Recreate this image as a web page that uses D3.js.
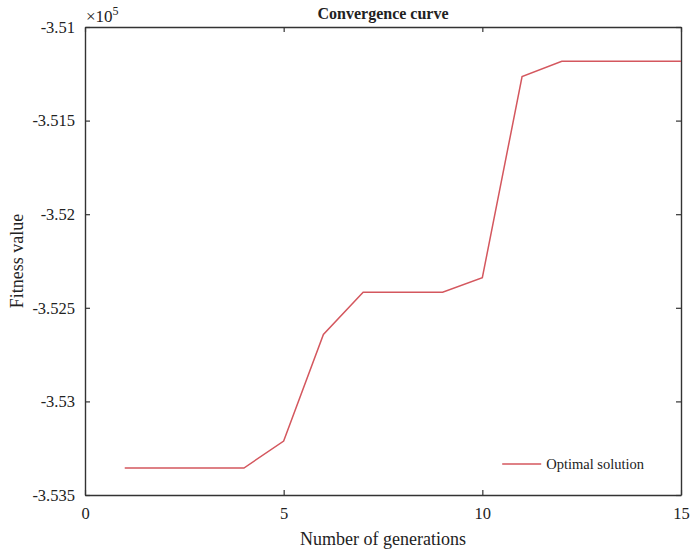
<!DOCTYPE html>
<html>
<head>
<meta charset="utf-8">
<script src="https://cdn.jsdelivr.net/npm/d3@7"></script>
<style>
  body { margin: 0; background: #fff; }
  text { font-family: "Liberation Serif", "Times New Roman", serif; fill: #222; }
</style>
</head>
<body>
<div id="root"></div>
<script>
// best fitness per generation
const generations = [1, 2, 3, 4, 5, 6, 7, 8, 9, 10, 11, 12, 13, 14, 15];
const fitness = [
  -353356, -353356, -353356, -353356, -353212, -352642, -352417, -352417,
  -352417, -352339, -351265, -351183, -351183, -351183, -351183,
];
const xTicks = [0, 5, 10, 15];
const yTicks = [-353500, -353000, -352500, -352000, -351500, -351000];
const seriesName = 'Optimal solution';

const width = 690;
const height = 555;
const margin = { top: 27, right: 9, bottom: 60, left: 85 };
const lineColor = '#d4575e';
const axisColor = '#333';

const svg = d3.select('#root').append('svg')
  .attr('width', width)
  .attr('height', height);

const xScale = d3.scaleLinear()
  .domain([0, 15])
  .range([margin.left, width - margin.right]);

const yScale = d3.scaleLinear()
  .domain([-353500, -351000])
  .range([height - margin.bottom, margin.top]);

// plain hyphen like matlab, not the unicode minus d3 uses
const fmtY = d => String(+(d / 1e5).toFixed(3));

// axes with inward ticks, matlab style box
const tickLen = 5;
const styleAxis = g => {
  g.select('.domain').attr('stroke', axisColor).attr('stroke-width', 1.4);
  g.selectAll('.tick line').attr('stroke', axisColor).attr('stroke-width', 1.2);
  g.selectAll('.tick text')
    .attr('font-size', 16.5)
    .attr('font-family', '"Liberation Serif", serif')
    .attr('fill', '#222');
};

svg.append('g')
  .attr('transform', `translate(0,${yScale.range()[0]})`)
  .call(d3.axisBottom(xScale).tickValues(xTicks).tickSizeInner(-tickLen).tickSizeOuter(0).tickPadding(12))
  .call(styleAxis);

svg.append('g')
  .attr('transform', `translate(0,${yScale.range()[1]})`)
  .call(d3.axisTop(xScale).tickValues(xTicks).tickSizeInner(-tickLen).tickSizeOuter(0).tickFormat(''))
  .call(styleAxis);

svg.append('g')
  .attr('transform', `translate(${xScale.range()[0]},0)`)
  .call(d3.axisLeft(yScale).tickValues(yTicks).tickSizeInner(-tickLen).tickSizeOuter(0).tickPadding(10).tickFormat(fmtY))
  .call(styleAxis);

svg.append('g')
  .attr('transform', `translate(${xScale.range()[1]},0)`)
  .call(d3.axisRight(yScale).tickValues(yTicks).tickSizeInner(-tickLen).tickSizeOuter(0).tickFormat(''))
  .call(styleAxis);

// the curve
const line = d3.line()
  .x((d, i) => xScale(generations[i]))
  .y(d => yScale(d));

svg.append('path')
  .attr('d', line(fitness))
  .attr('fill', 'none')
  .attr('stroke', lineColor)
  .attr('stroke-width', 1.5);

// exponent marker
const expo = svg.append('text')
  .attr('x', xScale(0) + 1)
  .attr('y', margin.top - 5)
  .attr('font-size', 17);
expo.append('tspan').text('\u00d710');
expo.append('tspan').attr('dy', -7).attr('font-size', 12).text('5');

// title and axis labels
svg.append('text')
  .attr('x', (xScale.range()[0] + xScale.range()[1]) / 2)
  .attr('y', 19)
  .attr('text-anchor', 'middle')
  .attr('font-size', 16)
  .attr('font-weight', 'bold')
  .text('Convergence curve');

svg.append('text')
  .attr('x', (xScale.range()[0] + xScale.range()[1]) / 2)
  .attr('y', 545)
  .attr('text-anchor', 'middle')
  .attr('font-size', 18)
  .text('Number of generations');

svg.append('text')
  .attr('transform', `translate(23,${(yScale.range()[0] + yScale.range()[1]) / 2}) rotate(-90)`)
  .attr('text-anchor', 'middle')
  .attr('font-size', 18)
  .text('Fitness value');

// legend
const legend = svg.append('g')
  .attr('transform', `translate(${xScale(10.5)},${yScale(-353335)})`);
legend.append('line')
  .attr('x1', 0).attr('x2', 39)
  .attr('stroke', lineColor)
  .attr('stroke-width', 1.5);
legend.append('text')
  .attr('x', 44)
  .attr('dy', '0.35em')
  .attr('font-size', 14.5)
  .text(seriesName);
</script>
</body>
</html>
